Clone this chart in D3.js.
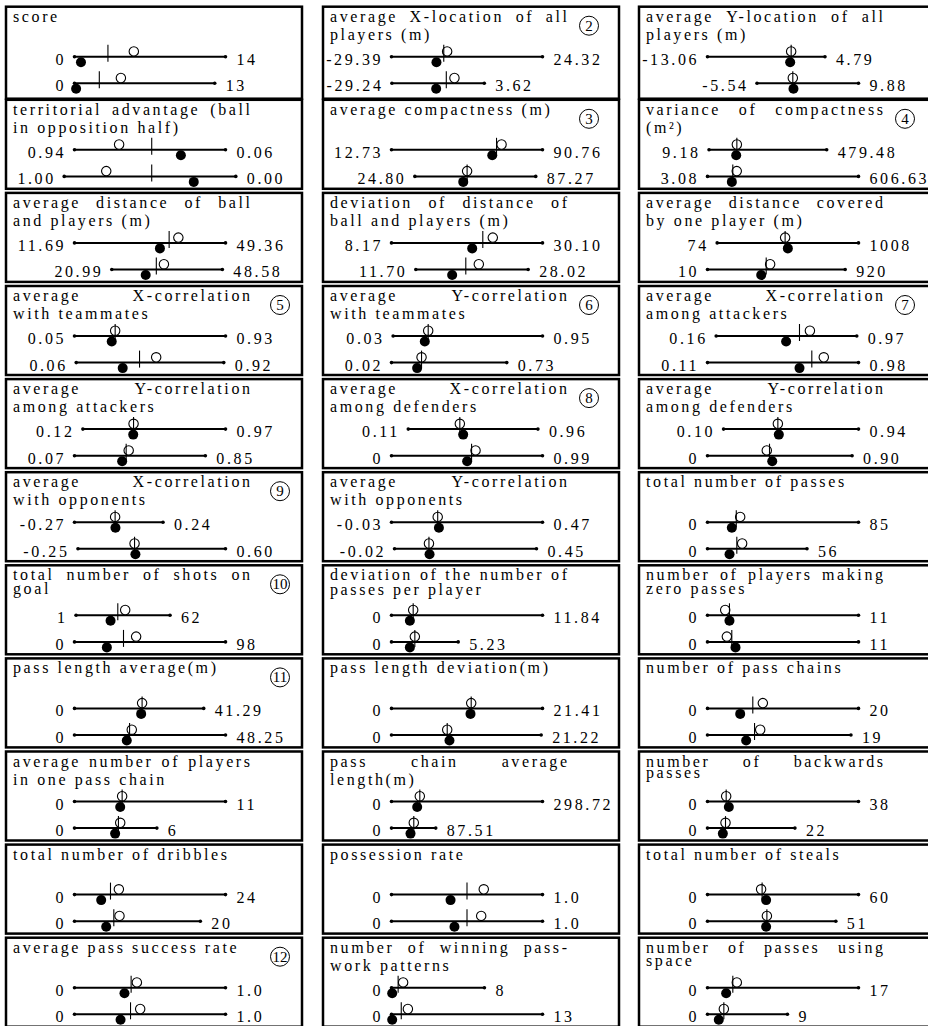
<!DOCTYPE html>
<html>
<head>
<meta charset="utf-8">
<script src="https://cdn.jsdelivr.net/npm/d3@7"></script>
<style>
  body { margin: 0; background: #fff; }
  svg text { font-family: "Liberation Serif", "DejaVu Serif", serif; fill: #000; }
</style>
</head>
<body>
<svg id="chart" width="928" height="1026"></svg>
<script>
// Panels are listed column by column, top to bottom (11 per column).
const metricTitles = [
  ["score"],
  ["territorial advantage (ball", "in opposition half)"],
  ["average distance of ball", "and players (m)"],
  ["average X-correlation", "with teammates"],
  ["average Y-correlation", "among attackers"],
  ["average X-correlation", "with opponents"],
  ["total number of shots on", "goal"],
  ["pass length average(m)"],
  ["average number of players", "in one pass chain"],
  ["total number of dribbles"],
  ["average pass success rate"],

  ["average X-location of all", "players (m)"],
  ["average compactness (m)"],
  ["deviation of distance of", "ball and players (m)"],
  ["average Y-correlation", "with teammates"],
  ["average X-correlation", "among defenders"],
  ["average Y-correlation", "with opponents"],
  ["deviation of the number of", "passes per player"],
  ["pass length deviation(m)"],
  ["pass chain average", "length(m)"],
  ["possession rate"],
  ["number of winning pass-", "work patterns"],

  ["average Y-location of all", "players (m)"],
  ["variance of compactness", "(m²)"],
  ["average distance covered", "by one player (m)"],
  ["average X-correlation", "among attackers"],
  ["average Y-correlation", "among defenders"],
  ["total number of passes"],
  ["number of players making", "zero passes"],
  ["number of pass chains"],
  ["number of backwards", "passes"],
  ["total number of steals"],
  ["number of passes using", "space"]
];

// Circled reference numbers (null = none)
const metricBadges = [
  null, null, null, 5, null, 9, 10, 11, null, null, 12,
  2, 3, null, 6, 8, null, null, null, null, null, null,
  null, 4, null, 7, null, null, null, null, null, null, null
];

// Range end labels for the two rows of every panel
const rangeMinLabels = [
  ["0", "0"], ["0.94", "1.00"], ["11.69", "20.99"], ["0.05", "0.06"], ["0.12", "0.07"],
  ["-0.27", "-0.25"], ["1", "0"], ["0", "0"], ["0", "0"], ["0", "0"], ["0", "0"],
  ["-29.39", "-29.24"], ["12.73", "24.80"], ["8.17", "11.70"], ["0.03", "0.02"], ["0.11", "0"],
  ["-0.03", "-0.02"], ["0", "0"], ["0", "0"], ["0", "0"], ["0", "0"], ["0", "0"],
  ["-13.06", "-5.54"], ["9.18", "3.08"], ["74", "10"], ["0.16", "0.11"], ["0.10", "0"],
  ["0", "0"], ["0", "0"], ["0", "0"], ["0", "0"], ["0", "0"], ["0", "0"]
];
const rangeMaxLabels = [
  ["14", "13"], ["0.06", "0.00"], ["49.36", "48.58"], ["0.93", "0.92"], ["0.97", "0.85"],
  ["0.24", "0.60"], ["62", "98"], ["41.29", "48.25"], ["11", "6"], ["24", "20"], ["1.0", "1.0"],
  ["24.32", "3.62"], ["90.76", "87.27"], ["30.10", "28.02"], ["0.95", "0.73"], ["0.96", "0.99"],
  ["0.47", "0.45"], ["11.84", "5.23"], ["21.41", "21.22"], ["298.72", "87.51"], ["1.0", "1.0"], ["8", "13"],
  ["4.79", "9.88"], ["479.48", "606.63"], ["1008", "920"], ["0.97", "0.98"], ["0.94", "0.90"],
  ["85", "56"], ["11", "11"], ["20", "19"], ["38", "22"], ["60", "51"], ["17", "9"]
];

// Vertical tick, open circle and filled circle values per row
const tickValues = [
  [3.1, 2.3], [0.49, 0.49], [35.3, 32.1], [0.287, 0.429], [0.422, 0.378],
  [-0.036, 0.076], [28.1, 31.8], [21.6, 17.6], [3.47, 3.2], [5.72, 6.25], [0.375, 0.371],
  [-10.8, -9.9], [67.0, 51.8], [21.43, 18.96], [0.246, 0.205], [0.448, 0.525],
  [0.123, 0.094], [1.70, 1.83], [11.3, 7.9], [56.0, 44.1], [0.5, 0.5], [0.57, 0.84],
  [-0.35, -0.1], [120.4, 104.2], [523, 398], [0.64, 0.711], [0.438, 0.386],
  [16.2, 16.5], [1.6, 1.77], [6.0, 6.23], [4.7, 4.53], [21.7, 23.6], [2.85, 1.84]
];
const openValues = [
  [5.5, 4.3], [0.68, 0.755], [37.6, 34.0], [0.287, 0.526], [0.422, 0.393],
  [-0.036, 0.076], [32.9, 40.0], [21.6, 18.3], [3.47, 3.33], [7.05, 7.15], [0.413, 0.435],
  [-9.6, -7.0], [69.6, 51.8], [22.88, 20.85], [0.246, 0.205], [0.448, 0.551],
  [0.123, 0.094], [1.70, 1.83], [11.3, 7.9], [56.0, 44.1], [0.611, 0.594], [1.0, 1.41],
  [-0.35, -0.1], [120.4, 120.0], [523, 424], [0.70, 0.78], [0.438, 0.369],
  [18.4, 19.5], [1.29, 1.41], [7.33, 6.98], [4.7, 4.53], [21.3, 23.6], [3.3, 1.84]
];
const filledValues = [
  [0.6, 0.15], [0.32, 0.245], [33.0, 29.45], [0.267, 0.331], [0.42, 0.354],
  [-0.034, 0.081], [23.4, 21.0], [21.3, 16.7], [3.33, 2.96], [4.24, 5.04], [0.331, 0.305],
  [-13.4, -13.5], [64.8, 49.8], [19.89, 16.98], [0.225, 0.178], [0.47, 0.496],
  [0.127, 0.096], [1.44, 1.44], [11.2, 8.22], [50.8, 37.6], [0.391, 0.417], [0.06, 0.06],
  [-0.5, 0.0], [117.8, 100.4], [541, 365], [0.563, 0.64], [0.444, 0.403],
  [13.7, 12.4], [1.6, 2.04], [4.33, 5.12], [5.37, 3.86], [23.3, 23.3], [2.1, 1.27]
];

// Panels whose axis is spanned by the first row only (reversed scale)
const firstRowAxis = new Set([1]);

// ---- layout ----
const panelsPerColumn = 11;
const colX = [6, 323, 639];
const boxW = 296, boxH = 89, rowTop0 = 6.7, rowPitch = 93.1;
const axisRange = [68.5, 219.5];
const rowLineY = [50, 76.6];
const titleY = 15, titleLeft = 7, titleRight = 244;
const titleLeading = { 6: 13.5, 17: 15, 28: 13.5, 30: 11, 32: 13.5 };
const fontSize = 16;
const letterSpacing = 2.6;

const svg = d3.select("#chart");
svg.append("rect").attr("width", 928).attr("height", 1026).attr("fill", "#fff");

function styledText(sel) {
  return sel.attr("font-size", fontSize).attr("letter-spacing", letterSpacing);
}

metricTitles.forEach((title, i) => {
  const col = Math.floor(i / panelsPerColumn);
  const row = i % panelsPerColumn;
  const g = svg.append("g")
    .attr("transform", `translate(${colX[col]},${rowTop0 + row * rowPitch})`);

  g.append("rect")
    .attr("width", boxW)
    .attr("height", row === 0 ? boxH + 3 : boxH)
    .attr("fill", "none")
    .attr("stroke", "#000")
    .attr("stroke-width", 2.5);

  // title: first line of a two-line title is justified
  title.forEach((line, li) => {
    const y = li === 0 ? titleY : titleY + (titleLeading[i] ?? 18);
    if (li === 0 && title.length > 1) {
      const words = line.split(" ");
      const nodes = words.map(w => styledText(g.append("text").attr("y", y)).text(w));
      const widths = nodes.map(n => n.node().getComputedTextLength() - letterSpacing);
      const total = d3.sum(widths);
      const gap = words.length > 1 ? (titleRight - titleLeft - total) / (words.length - 1) : 0;
      let cx = titleLeft;
      nodes.forEach((n, k) => { n.attr("x", cx); cx += widths[k] + gap; });
    } else {
      styledText(g.append("text").attr("x", titleLeft).attr("y", y)).text(line);
    }
  });

  // circled reference number
  if (metricBadges[i] != null) {
    const bx = col === 0 ? 274 : 266, by = 19;
    g.append("circle").attr("cx", bx).attr("cy", by).attr("r", 9.5)
      .attr("fill", "none").attr("stroke", "#000").attr("stroke-width", 1);
    g.append("text").attr("x", bx).attr("y", by + 5)
      .attr("text-anchor", "middle").attr("font-size", 15)
      .text(metricBadges[i]);
  }

  // shared scale for both rows of the panel
  const mins = rangeMinLabels[i].map(Number);
  const maxs = rangeMaxLabels[i].map(Number);
  const domain = firstRowAxis.has(i)
    ? [mins[0], maxs[0]]
    : [d3.min(mins), d3.max(maxs)];
  const x = d3.scaleLinear().domain(domain).range(axisRange);

  [0, 1].forEach(j => {
    const y = rowLineY[j];
    const x0 = x(mins[j]), x1 = x(maxs[j]);

    g.append("line").attr("x1", x0).attr("x2", x1).attr("y1", y).attr("y2", y)
      .attr("stroke", "#000").attr("stroke-width", 2);
    g.selectAll(null).data([x0, x1]).join("circle")
      .attr("cx", d => d).attr("cy", y).attr("r", 1.8).attr("fill", "#000");

    styledText(g.append("text")
      .attr("x", x0 - 11 + letterSpacing).attr("y", y + 8)
      .attr("text-anchor", "end"))
      .text(rangeMinLabels[i][j]);
    styledText(g.append("text")
      .attr("x", x1 + 11).attr("y", y + 8))
      .text(rangeMaxLabels[i][j]);

    g.append("circle")
      .attr("cx", x(filledValues[i][j])).attr("cy", y + 5.5).attr("r", 5)
      .attr("fill", "#000");
    g.append("circle")
      .attr("cx", x(openValues[i][j])).attr("cy", y - 5.3).attr("r", 4.7)
      .attr("fill", "#fff").attr("stroke", "#000").attr("stroke-width", 1.1);
    g.append("line")
      .attr("x1", x(tickValues[i][j])).attr("x2", x(tickValues[i][j]))
      .attr("y1", y - 12).attr("y2", y + 5)
      .attr("stroke", "#000").attr("stroke-width", 1.1);
  });
});
</script>
</body>
</html>
